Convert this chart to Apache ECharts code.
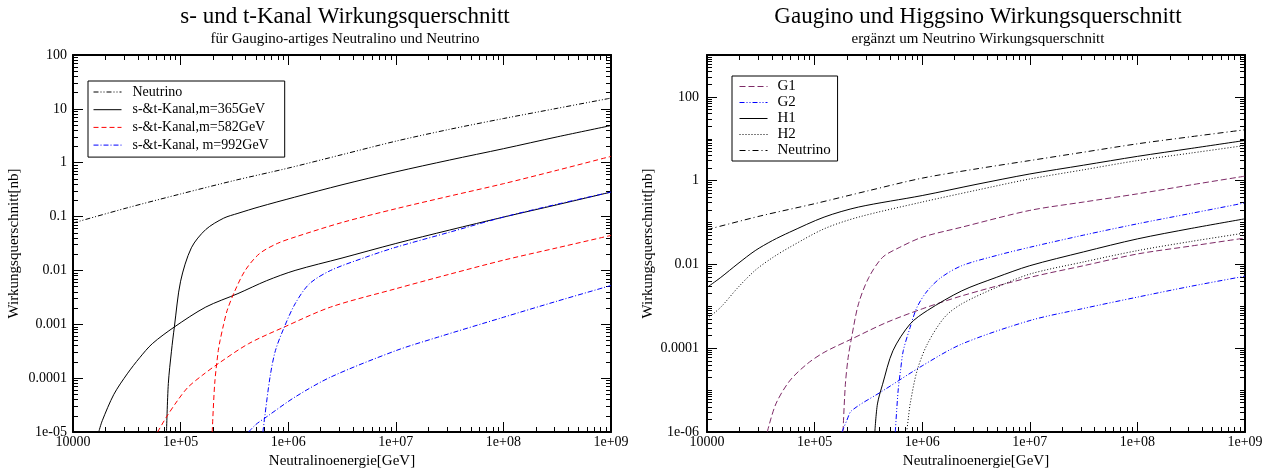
<!DOCTYPE html>
<html><head><meta charset="utf-8">
<script src="https://cdn.jsdelivr.net/npm/echarts@6/dist/echarts.min.js"></script>
<style>html,body{margin:0;padding:0;background:#fff}#c{width:1284px;height:474px}</style>
</head><body><div id="c"></div>
<script>
// ---- Data : pairs of [log10(E/GeV), log10(sigma/nb)] ----
// Left chart: s- und t-Kanal
const nuLeft   = [[4.0,-1.12],[4.5,-0.84],[5.0,-0.58],[5.5,-0.33],[6.0,-0.1],[6.5,0.15],[7.0,0.4],[7.5,0.62],[8.0,0.82],[8.5,1.01],[9.0,1.2]];
const m365Up   = [[4.869,-5],[4.886,-4.1],[4.915,-3.5],[4.942,-3.05],[5.0,-2.2],[5.1,-1.58],[5.234,-1.24],[5.4,-1.03],[5.533,-0.94],[5.73,-0.82],[6.06,-0.64],[6.5,-0.41],[7.0,-0.17],[7.5,0.05],[8.0,0.26],[8.5,0.48],[9.0,0.69]];
const m365Low  = [[4.239,-5],[4.272,-4.79],[4.38,-4.3],[4.504,-3.92],[4.62,-3.62],[4.737,-3.36],[4.942,-3.05],[5.234,-2.68],[5.533,-2.43],[5.8,-2.19],[6.064,-2.0],[6.5,-1.77],[7.0,-1.5],[7.5,-1.25],[8.0,-1.01],[8.5,-0.78],[9.0,-0.545]];
const m582Up   = [[5.294,-5],[5.317,-4.1],[5.35,-3.49],[5.367,-3.3],[5.4,-3.0],[5.433,-2.74],[5.5,-2.4],[5.6,-2.0],[5.732,-1.69],[5.898,-1.5],[6.064,-1.38],[6.5,-1.11],[7.0,-0.855],[7.5,-0.62],[8.0,-0.39],[8.5,-0.14],[9.0,0.118]];
const m582Low  = [[4.786,-5],[4.869,-4.72],[4.97,-4.42],[5.068,-4.17],[5.2,-3.95],[5.35,-3.73],[5.632,-3.36],[5.964,-3.05],[6.395,-2.68],[7.0,-2.34],[7.5,-2.07],[8.0,-1.81],[8.5,-1.58],[9.0,-1.35]];
const m992Up   = [[5.765,-5],[5.782,-4.72],[5.831,-3.98],[5.881,-3.49],[5.964,-3.05],[6.064,-2.62],[6.196,-2.25],[6.395,-2.0],[6.727,-1.75],[7.0,-1.57],[7.5,-1.29],[8.0,-1.01],[8.5,-0.77],[9.0,-0.545]];
const m992Low  = [[5.632,-5],[5.7,-4.86],[5.798,-4.72],[6.064,-4.35],[6.395,-3.98],[7.0,-3.49],[7.39,-3.24],[8.0,-2.87],[8.5,-2.57],[9.0,-2.28]];
// Right chart: Gaugino / Higgsino
const nuRight  = [[4.0,-1.17],[4.5,-0.84],[5.0,-0.55],[5.5,-0.24],[6.0,0.06],[6.5,0.28],[7.0,0.48],[7.5,0.68],[8.0,0.88],[8.5,1.05],[9.0,1.215]];
const h1Up     = [[4.0,-2.55],[4.128,-2.31],[4.288,-1.98],[4.448,-1.67],[4.608,-1.43],[4.768,-1.23],[5.088,-0.87],[5.408,-0.63],[6.0,-0.355],[6.5,-0.09],[7.0,0.16],[7.5,0.37],[8.0,0.58],[8.5,0.77],[9.0,0.96]];
const h2Up     = [[4.0,-3.3],[4.128,-3.02],[4.288,-2.55],[4.448,-2.14],[4.608,-1.84],[4.768,-1.59],[5.088,-1.15],[5.408,-0.87],[6.0,-0.51],[6.5,-0.23],[7.0,0.04],[7.5,0.26],[8.0,0.48],[8.5,0.66],[9.0,0.84]];
const g1Up     = [[5.264,-6],[5.286,-4.86],[5.312,-4.22],[5.344,-3.74],[5.408,-2.94],[5.504,-2.31],[5.632,-1.83],[5.792,-1.59],[6.0,-1.35],[6.368,-1.11],[7.0,-0.71],[7.5,-0.51],[8.0,-0.315],[8.5,-0.1],[9.0,0.108]];
const g1Low    = [[4.56,-6],[4.64,-5.33],[4.768,-4.78],[4.928,-4.38],[5.088,-4.1],[5.344,-3.78],[5.664,-3.39],[6.0,-3.06],[6.368,-2.75],[7.0,-2.31],[7.5,-2.03],[8.0,-1.75],[8.5,-1.56],[9.0,-1.37]];
const g2Up     = [[5.75,-6],[5.776,-5.02],[5.8,-4.5],[5.824,-4.06],[5.888,-3.5],[5.952,-3.02],[6.048,-2.63],[6.176,-2.31],[6.368,-2.03],[6.7,-1.78],[7.0,-1.59],[7.5,-1.3],[8.0,-1.03],[8.5,-0.78],[9.0,-0.53]];
const g2Low    = [[5.254,-6],[5.3,-5.72],[5.344,-5.49],[5.632,-5.02],[6.0,-4.42],[6.368,-3.9],[7.0,-3.34],[7.5,-3.05],[8.0,-2.78],[8.5,-2.52],[9.0,-2.28]];
const h1Low    = [[5.56,-6],[5.584,-5.33],[5.632,-4.86],[5.728,-4.06],[5.888,-3.42],[6.048,-3.1],[6.368,-2.63],[6.688,-2.31],[7.0,-2.03],[7.5,-1.7],[8.0,-1.39],[8.5,-1.14],[9.0,-0.91]];
const h2Low    = [[5.856,-6],[5.872,-5.65],[5.888,-5.33],[5.952,-4.54],[6.048,-3.9],[6.208,-3.26],[6.368,-2.94],[6.688,-2.55],[7.0,-2.23],[7.5,-1.94],[8.0,-1.67],[8.5,-1.45],[9.0,-1.25]];

// Tick labels
const xTickLabels = ['10000','1e+05','1e+06','1e+07','1e+08','1e+09'];           // exponents 4..9
const yTickLabelsLeft = ['1e-05','0.0001','0.001','0.01','0.1','1','10','100'];   // exponents -5..2
const yTickLabelsRight = {'-6':'1e-06','-4':'0.0001','-2':'0.01','0':'1','2':'100'};

// Texts
const titleLeft = 's- und t-Kanal Wirkungsquerschnitt';
const subLeft = 'für Gaugino-artiges Neutralino und Neutrino';
const titleRight = 'Gaugino und Higgsino Wirkungsquerschnitt';
const subRight = 'ergänzt um Neutrino Wirkungsquerschnitt';
const xName = 'Neutralinoenergie[GeV]';
const yName = 'Wirkungsquerschnitt[nb]';

const FONT = "'Liberation Serif','Times New Roman',serif";
const toPts = arr => arr.map(p => [Math.pow(10, p[0]), Math.pow(10, p[1])]);
const expOf = v => Math.round(Math.log10(v));

function decades(k0, k1) { const a = []; for (let k = k0; k <= k1; k++) a.push(Math.pow(10, k)); return a; }
function minors(k0, k1) { const a = []; for (let k = k0; k <= k1; k++) for (let m = 2; m <= 9; m++) a.push(m * Math.pow(10, k)); return a; }

const xMajor = decades(4, 9), xMinor = minors(4, 8);
const yMajorL = decades(-5, 2), yMinorL = minors(-5, 1);
const yMajorR = [1e-6, 1e-4, 1e-2, 1, 100], yMinorR = minors(-6, 2).concat([1e-5, 1e-3, 1e-1, 10]);

const lineBlack = { color: '#000', width: 2 };

function xAxes(g) {
  const base = { type: 'log', logBase: 10, gridIndex: g, min: 1e4, max: 1e9, splitLine: { show: false }, minorTick: { show: false } };
  const fmt = v => xTickLabels[expOf(v) - 4];
  return [
    Object.assign({}, base, { position: 'bottom', axisLine: { show: true, onZero: false, lineStyle: lineBlack },
      axisTick: { show: true, inside: true, length: 10, customValues: xMajor, lineStyle: { color: '#000', width: 1 } },
      axisLabel: { show: true, customValues: xMajor, formatter: fmt, margin: 3, color: '#000', fontFamily: FONT, fontSize: 14 },
      name: xName, nameLocation: 'middle', nameGap: 21, nameTextStyle: { color: '#000', fontFamily: FONT, fontSize: 15 } }),
    Object.assign({}, base, { position: 'top', axisLine: { show: true, onZero: false, lineStyle: lineBlack },
      axisTick: { show: true, inside: true, length: 10, customValues: xMajor, lineStyle: { color: '#000', width: 1 } },
      axisLabel: { show: false } }),
    Object.assign({}, base, { position: 'bottom', axisLine: { show: false, onZero: false },
      axisTick: { show: true, inside: true, length: 5, customValues: xMinor, lineStyle: { color: '#000', width: 1 } },
      axisLabel: { show: false } }),
    Object.assign({}, base, { position: 'top', axisLine: { show: false, onZero: false },
      axisTick: { show: true, inside: true, length: 5, customValues: xMinor, lineStyle: { color: '#000', width: 1 } },
      axisLabel: { show: false } })
  ];
}

function yAxes(g, min, max, major, minor, fmt, labelMargin) {
  const base = { type: 'log', logBase: 10, gridIndex: g, min: min, max: max, splitLine: { show: false }, minorTick: { show: false } };
  return [
    Object.assign({}, base, { position: 'left', axisLine: { show: true, onZero: false, lineStyle: lineBlack },
      axisTick: { show: true, inside: true, length: 10, customValues: major, lineStyle: { color: '#000', width: 1 } },
      axisLabel: { show: true, customValues: major, formatter: fmt, margin: labelMargin, color: '#000', fontFamily: FONT, fontSize: 14 },
      name: yName, nameLocation: 'middle', nameGap: 51, nameRotate: 90, nameTextStyle: { color: '#000', fontFamily: FONT, fontSize: 15 } }),
    Object.assign({}, base, { position: 'right', axisLine: { show: true, onZero: false, lineStyle: lineBlack },
      axisTick: { show: true, inside: true, length: 10, customValues: major, lineStyle: { color: '#000', width: 1 } },
      axisLabel: { show: false } }),
    Object.assign({}, base, { position: 'left', axisLine: { show: false, onZero: false },
      axisTick: { show: true, inside: true, length: 5, customValues: minor, lineStyle: { color: '#000', width: 1 } },
      axisLabel: { show: false } }),
    Object.assign({}, base, { position: 'right', axisLine: { show: false, onZero: false },
      axisTick: { show: true, inside: true, length: 5, customValues: minor, lineStyle: { color: '#000', width: 1 } },
      axisLabel: { show: false } })
  ];
}

function line(name, arr, grid, color, dash) {
  return { type: 'line', name: name, xAxisIndex: grid * 4, yAxisIndex: grid * 4, data: toPts(arr),
    symbol: 'none', showSymbol: false, smooth: 0.3, clip: true, silent: true,
    color: color, itemStyle: { color: color }, lineStyle: { color: color, width: 1, type: dash } };
}

const RED = '#ff0000', BLUE = '#0000ff', PURPLE = '#7d2a66';
const NAMES_L = ['Neutrino', 's-&t-Kanal,m=365GeV', 's-&t-Kanal,m=582GeV', 's-&t-Kanal, m=992GeV'];
const NAMES_R = ['G1', 'G2', 'H1', 'H2', 'Neutrino '];

const series = [
  line(NAMES_L[0], nuLeft, 0, '#000', [5, 2, 1, 2, 1, 2]),
  line(NAMES_L[1], m365Up, 0, '#000', 'solid'),
  line(NAMES_L[1], m365Low, 0, '#000', 'solid'),
  line(NAMES_L[2], m582Up, 0, RED, [5, 3]),
  line(NAMES_L[2], m582Low, 0, RED, [5, 3]),
  line(NAMES_L[3], m992Up, 0, BLUE, [5, 2, 1, 2]),
  line(NAMES_L[3], m992Low, 0, BLUE, [5, 2, 1, 2]),
  line(NAMES_R[0], g1Up, 1, PURPLE, [6, 3]),
  line(NAMES_R[0], g1Low, 1, PURPLE, [6, 3]),
  line(NAMES_R[1], g2Up, 1, BLUE, [5, 2, 1, 2, 1, 2]),
  line(NAMES_R[1], g2Low, 1, BLUE, [5, 2, 1, 2, 1, 2]),
  line(NAMES_R[2], h1Up, 1, '#000', 'solid'),
  line(NAMES_R[2], h1Low, 1, '#000', 'solid'),
  line(NAMES_R[3], h2Up, 1, '#000', [1, 2]),
  line(NAMES_R[3], h2Low, 1, '#000', [1, 2]),
  line(NAMES_R[4], nuRight, 1, '#000', [6, 3, 1, 3])
];

const legendBase = { orient: 'vertical', backgroundColor: '#fff', borderColor: '#000', borderWidth: 1, borderRadius: 0,
  itemWidth: 28, selectedMode: false, inactiveColor: '#000',
  itemStyle: { opacity: 0, borderWidth: 0 }, lineStyle: { width: 1 } };

const option = {
  animation: false,
  backgroundColor: '#fff',
  title: [
    { text: titleLeft, subtext: subLeft, left: 345, top: 5, textAlign: 'center', padding: 0, itemGap: 2,
      textStyle: { fontFamily: FONT, fontSize: 23, fontWeight: 'normal', color: '#000', lineHeight: 24 },
      subtextStyle: { fontFamily: FONT, fontSize: 15, color: '#000', lineHeight: 16 } },
    { text: titleRight, subtext: subRight, left: 978, top: 5, textAlign: 'center', padding: 0, itemGap: 2,
      textStyle: { fontFamily: FONT, fontSize: 23, fontWeight: 'normal', color: '#000', lineHeight: 24 },
      subtextStyle: { fontFamily: FONT, fontSize: 15, color: '#000', lineHeight: 16 } }
  ],
  legend: [
    Object.assign({}, legendBase, { data: NAMES_L, left: 88, top: 81, padding: [3, 16, 4, 5], itemHeight: 16, itemGap: 1.7,
      textStyle: { fontFamily: FONT, fontSize: 14, color: '#000', lineHeight: 16, padding: [0, 0, 0, 6] } }),
    Object.assign({}, legendBase, { data: NAMES_R, left: 732, top: 76, padding: [3, 3, 3, 7], itemHeight: 15, itemGap: 1,
      textStyle: { fontFamily: FONT, fontSize: 15, color: '#000', lineHeight: 15, padding: [0, 0, 0, 5] } })
  ],
  grid: [
    { left: 73, top: 55, width: 538, height: 377, containLabel: false, outerBoundsMode: 'none' },
    { left: 707, top: 55, width: 538, height: 377, containLabel: false, outerBoundsMode: 'none' }
  ],
  xAxis: xAxes(0).concat(xAxes(1)),
  yAxis: yAxes(0, 1e-5, 100, yMajorL, yMinorL, v => yTickLabelsLeft[expOf(v) + 5], 6)
    .concat(yAxes(1, 1e-6, 1000, yMajorR, yMinorR, v => yTickLabelsRight[String(expOf(v))] || '', 8)),
  series: series
};

const chart = echarts.init(document.getElementById('c'), null, { renderer: 'canvas' });
chart.setOption(option);
</script>
</body></html>
